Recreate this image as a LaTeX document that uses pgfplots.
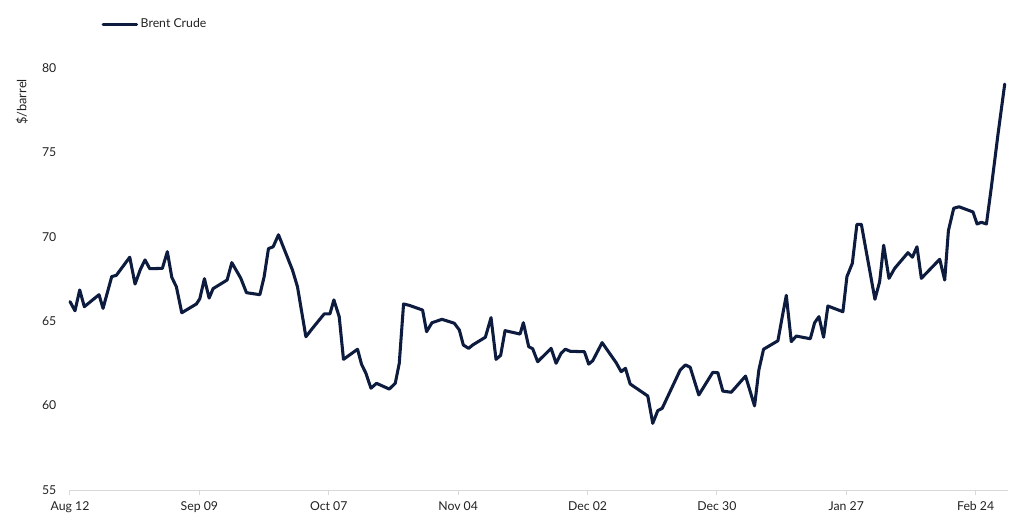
\documentclass[border=0pt]{standalone}
\usepackage{fontspec}
\setmainfont{Lato}
\usepackage{pgfplots}
\pgfplotsset{compat=1.18}
\definecolor{brent}{HTML}{0D1B3E}
\definecolor{axgray}{HTML}{D9D9D9}
\definecolor{txt}{HTML}{222222}
\begin{document}
\begin{tikzpicture}
\path[use as bounding box] (-52.5pt,-26.25pt) rectangle (715.5pt,367.5pt);
\begin{axis}[
  scale only axis,
  width=703.5pt, height=316.5pt,
  xmin=0, xmax=203, ymin=55, ymax=80,
  axis x line*=bottom, axis y line*=left,
  x axis line style={draw=axgray, line width=0.75pt, -},
  y axis line style={draw=none},
  xtick={0,28,56,84,112,140,168,196},
  xticklabels={Aug 12,Sep 09,Oct 07,Nov 04,Dec 02,Dec 30,Jan 27,Feb 24},
  ytick={55,60,65,70,75,80},
  tick align=outside,
  major tick length=3.75pt,
  x tick style={draw=axgray, line width=0.75pt},
  y tick style={draw=none},
  tick label style={font=\fontsize{9.2pt}{11pt}\selectfont, text=txt},
  /pgf/number format/assume math mode=true,
  xticklabel style={yshift=-1.5pt},
  yticklabel style={xshift=-3pt},
  legend style={at={(0.0335,1.104)}, anchor=west, draw=none, fill=none,
    inner sep=0pt, font=\fontsize{9.2pt}{11pt}\selectfont, text=txt},
  legend cell align=left,
  legend image code/.code={\draw[#1] (0pt,0pt) -- (25pt,0pt);},
  clip=false,
]
\addplot[brent, line width=2.3pt, line join=round, line cap=round] coordinates {
(0,66.16) (1.08,65.62) (2.10,66.85) (3.10,65.86) (6.28,66.57) (7.15,65.76)
(9.03,67.64) (10.03,67.72) (12.93,68.79) (14.08,67.20) (15.23,68.07) (16.24,68.63)
(17.26,68.11) (19.99,68.13) (21.07,69.12) (22.03,67.60) (23.02,67.04) (24.19,65.50)
(27.36,66.02) (28.09,66.33) (29.09,67.52) (30.11,66.37) (30.97,66.93) (34.00,67.44)
(35.02,68.47) (36.97,67.54) (38.19,66.69) (41.09,66.57) (42.02,67.64) (42.95,69.30)
(43.97,69.41) (45.12,70.12) (48.15,68.03) (49.23,67.04) (51.05,64.08) (52.48,64.58)
(55.01,65.43) (56.25,65.43) (57.11,66.26) (58.26,65.27) (59.19,62.74) (62.23,63.34)
(63.09,62.45) (64.05,61.91) (65.13,61.03) (66.34,61.32) (69.09,60.98) (70.39,61.32)
(71.26,62.51) (72.19,66.02) (73.42,65.94) (76.31,65.66) (77.17,64.38) (78.34,64.91)
(80.51,65.11) (83.17,64.88) (84.26,64.48) (85.12,63.59) (86.27,63.39) (87.14,63.59)
(89.89,64.05) (91.12,65.21) (92.20,62.74) (93.20,62.98) (94.15,64.44) (97.40,64.24)
(98.12,64.91) (99.27,63.49) (100.13,63.37) (101.21,62.60) (104.12,63.39) (105.20,62.51)
(106.28,63.10) (107.21,63.34) (108.23,63.22) (111.33,63.19) (112.26,62.46) (113.13,62.66)
(115.16,63.73) (118.20,62.54) (119.28,62.01) (120.21,62.21) (121.23,61.28) (125.04,60.57)
(126.12,58.95) (127.20,59.70) (128.16,59.84) (132.06,62.11) (133.20,62.41) (134.22,62.27)
(136.08,60.63) (139.11,61.97) (140.20,61.95) (141.28,60.86) (143.10,60.79) (146.20,61.75)
(148.15,59.98) (149.08,62.11) (150.10,63.34) (153.20,63.84) (154.15,65.27) (155.02,66.53)
(156.10,63.79) (157.18,64.12) (160.21,63.96) (161.15,64.91) (162.08,65.27) (163.09,64.05)
(164.02,65.90) (167.27,65.56) (168.14,67.64) (169.31,68.43) (170.30,70.74) (171.26,70.74)
(174.20,66.30) (175.22,67.34) (176.09,69.50) (177.24,67.54) (178.47,68.13) (181.35,69.06)
(182.31,68.79) (183.30,69.41) (184.25,67.54) (188.22,68.67) (189.30,67.44) (190.10,70.36)
(191.25,71.69) (192.40,71.78) (195.43,71.47) (196.30,70.76) (197.25,70.86) (198.33,70.76)
(199.41,72.97) (200.84,76.09) (202.29,79.05)
};
\addlegendentry{Brent Crude}
\end{axis}
\node[rotate=90, font=\fontsize{9.6pt}{11pt}\selectfont, text=txt] at (-36pt,291pt) {\$/barrel};
\end{tikzpicture}
\end{document}
